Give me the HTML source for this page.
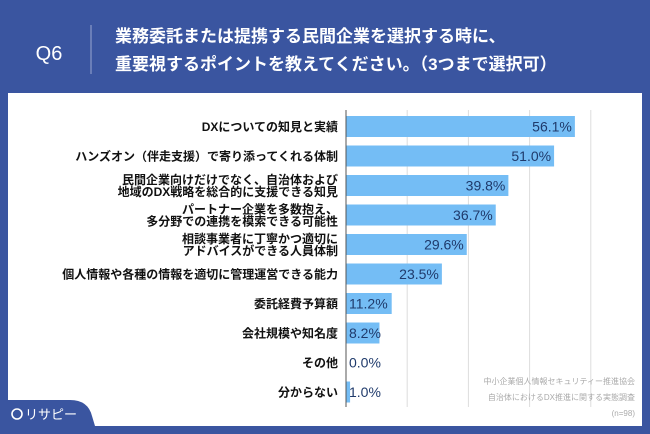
<!DOCTYPE html>
<html><head><meta charset="utf-8">
<style>
body{margin:0;width:650px;height:434px;background:#3a55a0;overflow:hidden;font-family:"Liberation Sans","Noto Sans CJK JP",sans-serif;}
#wrap{position:relative;width:650px;height:434px;}
</style></head><body>
<div id="wrap">
<svg width="650" height="434" style="position:absolute;left:0;top:0" id="svg">
<rect x="8" y="93" width="634" height="333" fill="#ffffff"/>
<text x="49" y="60" fill="#fff" font-size="20" text-anchor="middle">Q6</text>
<line x1="91" y1="25" x2="91" y2="74" stroke="#9aa8d0" stroke-width="1"/>
<text x="115" y="42" fill="#fff" font-size="17" font-weight="bold">業務委託または提携する民間企業を選択する時に、</text>
<text x="115" y="70" fill="#fff" font-size="17" font-weight="bold">重要視するポイントを教えてください。（3つまで選択可）</text>
<g id="grid"></g><g id="bars"></g>
<path d="M8 400 H70 Q88 400 92 416 L95 426 H8 Z" fill="#3a55a0"/>
<circle cx="17" cy="414" r="5" fill="none" stroke="#fff" stroke-width="1.6"/>
<text x="25" y="419" fill="#fff" font-size="13">リサピー</text>
<g fill="#aaa" font-size="8" text-anchor="end">
<text x="635" y="384">中小企業個人情報セキュリティー推進協会</text>
<text x="635" y="400">自治体におけるDX推進に関する実態調査</text>
<text x="635" y="416">(n=98)</text>
</g>
</svg>
</div>
<script>
const categories=[["DXについての知見と実績"],["ハンズオン（伴走支援）で寄り添ってくれる体制"],["民間企業向けだけでなく、自治体および","地域のDX戦略を総合的に支援できる知見"],["パートナー企業を多数抱え、","多分野での連携を模索できる可能性"],["相談事業者に丁寧かつ適切に","アドバイスができる人員体制"],["個人情報や各種の情報を適切に管理運営できる能力"],["委託経費予算額"],["会社規模や知名度"],["その他"],["分からない"]];
const values=[56.1,51.0,39.8,36.7,29.6,23.5,11.2,8.2,0.0,1.0];
const ticks=[0,15,30,45,60];
const NS="http://www.w3.org/2000/svg";
const x0=346,pxPer=4.08,y0=126.5,pitch=29.5,bh=21;
const xs=v=>x0+v*pxPer, ys=i=>y0+i*pitch;
function mk(t,a,p){const e=document.createElementNS(NS,t);for(const k in a)e.setAttribute(k,a[k]);p.appendChild(e);return e;}
const grid=document.getElementById('grid'),bars=document.getElementById('bars');
ticks.forEach(t=>{if(t===0)return;const l=mk('line',{x1:xs(t),x2:xs(t),y1:110,y2:407,stroke:'#dddddd','stroke-width':1},grid);

});
values.forEach((v,i)=>{
 const cy=ys(i);
 const r=mk('rect',{x:x0,y:cy-bh/2,width:v*pxPer,height:bh,fill:'#74bdf5'},bars);
 
 
 const long=v*pxPer>50;
 const t=mk('text',{x:long?xs(v)-3:x0+3,y:cy+5,'font-size':14,fill:'#1f3a6b','text-anchor':long?'end':'start'},bars);
 t.textContent=v.toFixed(1)+'%';
 
 
 const lines=categories[i];
 lines.forEach((s,j)=>{
  const off=lines.length===1?4.5:(j===0?-1.5:10.5);
  const c=mk('text',{x:338,y:cy+off,'font-size':12,'font-weight':'bold',fill:'#111','text-anchor':'end'},bars);
  c.textContent=s;
  
  
 });
});
const ax=mk('line',{x1:x0,x2:x0,y1:110,y2:407,stroke:'#555','stroke-width':1},bars);


</script>
</body></html>
